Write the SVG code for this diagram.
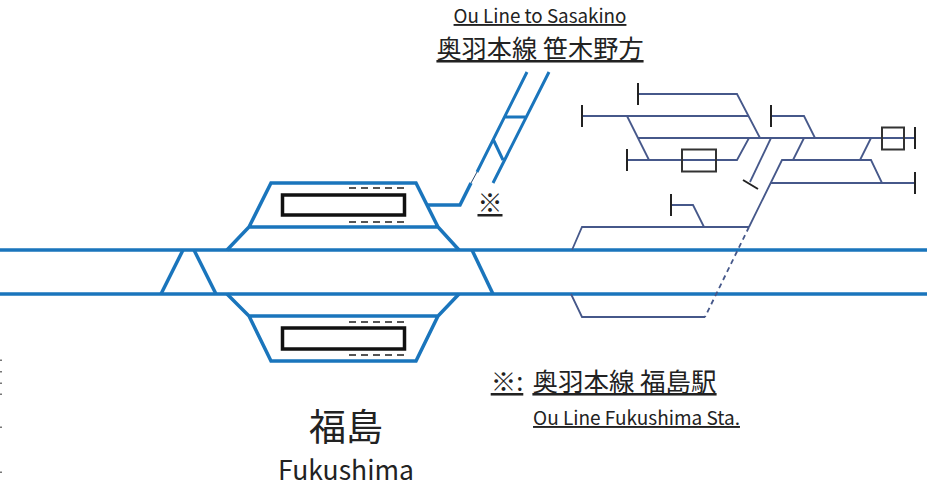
<svg xmlns="http://www.w3.org/2000/svg" width="935" height="493" viewBox="0 0 935 493">
<style>
text{font-family:"Noto Sans CJK JP","Noto Sans",sans-serif;fill:#222;text-anchor:middle}
.u{text-decoration:underline}
.b{fill:none;stroke:#1a75bc;stroke-width:3.500;stroke-linejoin:miter}
.d{fill:none;stroke:#46588a;stroke-width:1.800}
.dd{stroke-dasharray:5 4}
.s{fill:none;stroke:#222;stroke-width:2}
.r{fill:#fff;stroke:#111;stroke-width:3.500}
.r2{fill:none;stroke:#333;stroke-width:2}
.p{stroke:#555;stroke-width:2.200;stroke-dasharray:7 5}
</style>
<rect width="935" height="493" fill="#fff"/>
<g id="connectors">
<g id="blue-tracks">
<path class="b" d="M0 250H927M0 294H927"/>
<path class="b" d="M161 294L183 250M194 250L216 294"/>
<path class="b" d="M227 250L249 227L271 183H416L438 227L459 250M249 227H438"/>
<path class="b" d="M227 294L249 316L271 361H416L438 316L459 294M249 316H438"/>
<path class="b" d="M472 250L493 294"/>
<path class="b" d="M428 205H460L471 183"/>
<path d="M471 183L477 172" fill="none" stroke="#2c4a70" stroke-width="1"/>
<path class="b" style="stroke-width:3" d="M477 172L527 72M493 183L549 72M505 117H527M493 139L503 160"/>
</g>
<g id="dark-tracks">
<path class="d" d="M638 94H737L760 138"/>
<path class="d" d="M582 116H748"/>
<path class="d" d="M627 116L649 160"/>
<path class="d" d="M638 138H915"/>
<path class="d" d="M627 160H737L749 138"/>
<path class="d" d="M771 138L750 182"/>
<path class="d" d="M771 116H804L815 138"/>
<path class="d" d="M804 138L793 160"/>
<path class="d" d="M871 138L860 160"/>
<path class="d" d="M749 227L782 160H871L882 183"/>
<path class="d" d="M771 183H915"/>
<path class="d" d="M572 250L582 227H749"/>
<path class="d" d="M671 205H693L704 227"/>
<path class="d" d="M571 294L582 317H705"/>
<path class="d dd" d="M749 227L705 317"/>
</g>
</g>
<g id="stops">
<path class="s" d="M638 83V105M582 105V127M627 149V171M771 105V127M915 127V149M915 172V194M671 194V216M743 180L758 189"/>
</g>
<g id="platform-north">
<rect class="r" x="282.500" y="195" width="122" height="20"/>
<path class="p" d="M349 188H405M349 222H405"/>
</g>
<g id="platform-south">
<rect class="r" x="282.500" y="328" width="122" height="21"/>
<path class="p" d="M349 322H405M349 355H405"/>
</g>
<g id="platform-yard-1"><rect class="r2" x="682" y="149.500" width="34" height="22"/></g>
<g id="platform-yard-2"><rect class="r2" x="882" y="127.500" width="22" height="22"/></g>
<g id="label-ou-top">
<text class="u" x="540" y="23" font-size="18.800">Ou Line to Sasakino</text>
<text class="u" x="540" y="58" font-size="25.200">奥羽本線 笹木野方</text>
</g>
<g id="label-note-mark">
<text class="u" x="490" y="212" font-size="25">※</text>
</g>
<g id="label-note">
<text class="u" x="507" y="391" font-size="25.500">※:</text>
<text class="u" x="624.500" y="391" font-size="25.500">奥羽本線 福島駅</text>
<text class="u" x="636.500" y="425" font-size="19">Ou Line Fukushima Sta.</text>
</g>
<g id="label-station">
<text x="346" y="441" font-size="37">福島</text>
<text x="346" y="480" font-size="26.500">Fukushima</text>
</g>
<g id="edge-ticks" fill="#777">
<rect x="0" y="359.500" width="2" height="1.500"/>
<rect x="0" y="371" width="2" height="1.500"/>
<rect x="0" y="382.500" width="2" height="1.500"/>
<rect x="0" y="393.500" width="2" height="1.500"/>
<rect x="0" y="426.500" width="2" height="1.500"/>
<rect x="0" y="471.500" width="2" height="1.500"/>
</g>
</svg>
